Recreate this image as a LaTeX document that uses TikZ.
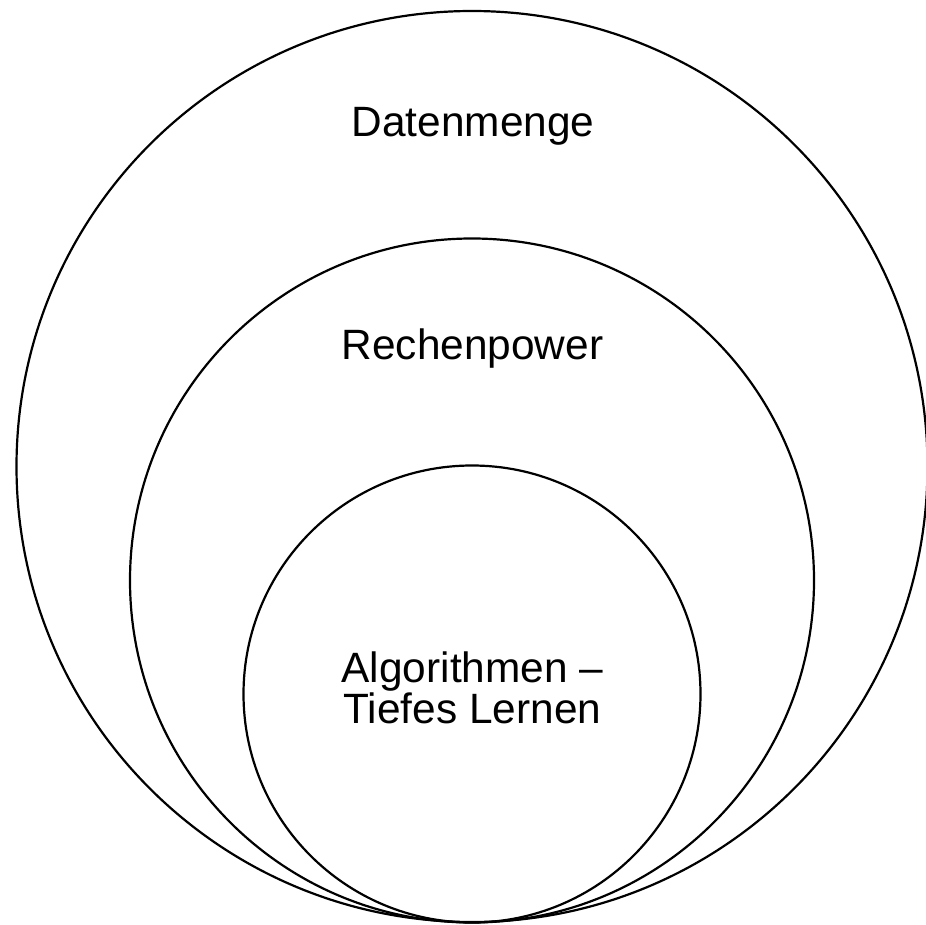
\documentclass[tikz,border=0pt]{standalone}
\usepackage{fontspec}
\setmainfont{Liberation Sans}
\tikzset{
	anillo/.style={draw=black,line width=1.1pt},
	rotulo/.style={font=\fontsize{21.2}{19.5}\selectfont,inner sep=0pt,align=center}
}
\begin{document}
\begin{tikzpicture}[x=0.5pt,y=-0.5pt]
	\useasboundingbox (0,0) rectangle (926,925);
	% los tres anillos, tangentes abajo
	\foreach \Yc/\Radio in 
	{466.5/455.5,580.5/342,694/228.5}
	{
		\draw[anillo] (472,\Yc) circle[radius=\Radio];
	}
	% los textos
	\node[rotulo,anchor=base] (datos) at (473,137) {Datenmenge};
	\node[rotulo,anchor=base] (rechen) at (472.5,359) {Rechenpower};
	\node[rotulo] (algo) at (472.5,688) {Algorithmen --\\Tiefes Lernen};
\end{tikzpicture}
\end{document}
